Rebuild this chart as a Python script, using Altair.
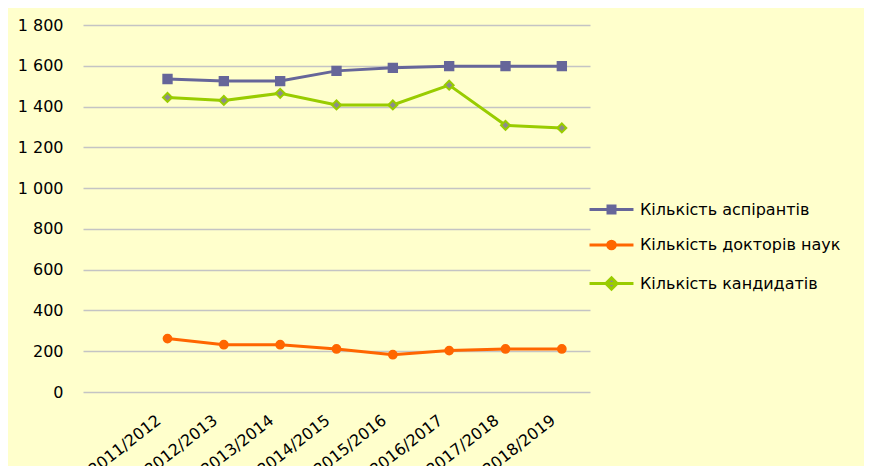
import altair as alt
import pandas as pd

years = ["2011/2012", "2012/2013", "2013/2014", "2014/2015",
         "2015/2016", "2016/2017", "2017/2018", "2018/2019"]
series = ["Кількість аспірантів", "Кількість докторів наук", "Кількість кандидатів"]
aspirants = [1535, 1525, 1525, 1575, 1590, 1598, 1598, 1598]
doctors = [262, 232, 232, 211, 183, 203, 211, 211]
candidates = [1445, 1430, 1465, 1408, 1408, 1505, 1308, 1295]

line_colors = ["#666699", "#FF6600", "#99CC00"]
marker_fills = ["#666699", "#FF6600", "#8C8C8C"]
marker_shapes = ["square", "circle", "diamond"]
marker_sizes = [70, 60, 80]
y_ticks = [0, 200, 400, 600, 800, 1000, 1200, 1400, 1600, 1800]

rows = []
for name, vals in zip(series, [aspirants, doctors, candidates]):
    for yr, v in zip(years, vals):
        rows.append({"year": yr, "series": name, "value": v})
df = pd.DataFrame(rows)

x_domain = [" "] + years

paths = [
    "M-3.14,0H3.14M-0.5,-0.5H0.5V0.5H-0.5Z",
    "M-3.14,0H3.14M-0.55,0A0.55,0.55,0,1,1,0.55,0A0.55,0.55,0,1,1,-0.55,0Z",
    "M-3.14,0H3.14M0,-0.8L0.8,0L0,0.8L-0.8,0Z",
]


def pick(vals):
    return (f"datum.value === '{series[0]}' ? '{vals[0]}' : "
            f"datum.value === '{series[1]}' ? '{vals[1]}' : '{vals[2]}'")


legend = alt.Legend(
    title=None,
    orient="none",
    legendX=520,
    legendY=176,
    labelFont="DejaVu Sans",
    labelFontSize=16,
    labelColor="#000000",
    labelLimit=400,
    labelOffset=20,
    rowPadding=15.5,
    padding=0,
    symbolSize=196,
    symbolStrokeWidth=3,
    symbolOpacity=1,
    symbolType={"expr": pick(paths)},
    symbolFillColor={"expr": pick(marker_fills)},
    symbolStrokeColor={"expr": pick(line_colors)},
)

x_enc = alt.X(
    "year:N",
    sort=None,
    scale=alt.Scale(type="point", domain=x_domain, padding=0.5),
    axis=alt.Axis(
        title=None, labelAngle=-38, labelAlign="right", labelBaseline="middle",
        ticks=False, domain=False, grid=False, labelPadding=26, labelOffset=-9,
        labelFont="DejaVu Sans", labelFontSize=16, labelColor="#000000",
    ),
)
y_enc = alt.Y(
    "value:Q",
    scale=alt.Scale(domain=[0, 1800], nice=False),
    axis=alt.Axis(
        title=None, values=y_ticks, ticks=False, domain=False, grid=True,
        gridColor="#C4C4C4", gridWidth=1.5, labelPadding=20,
        labelFont="DejaVu Sans", labelFontSize=16, labelColor="#000000",
        labelExpr="replace(format(datum.value, ','), ',', ' ')",
    ),
)

lines = alt.Chart(df).mark_line(strokeWidth=3).encode(
    x=x_enc,
    y=y_enc,
    color=alt.Color("series:N", scale=alt.Scale(domain=series, range=line_colors),
                    legend=legend),
)

layers = [lines]
for name, shp, fc, sc, sz in zip(series, marker_shapes, marker_fills, line_colors, marker_sizes):
    layers.append(
        alt.Chart(df).transform_filter(alt.datum.series == name).mark_point(
            shape=shp, filled=True, fill=fc, stroke=sc, strokeWidth=2, size=sz, opacity=1
        ).encode(x=x_enc, y=y_enc)
    )

chart = alt.layer(*layers).properties(
    width=507,
    height=367,
    autosize=alt.AutoSizeParams(type="none"),
    padding={"left": 75, "top": 17, "right": 274, "bottom": 74},
    background="#FFFFCC",
).configure_view(stroke=None)

chart.save("out.html", embed_options={"renderer": "svg", "actions": False})
